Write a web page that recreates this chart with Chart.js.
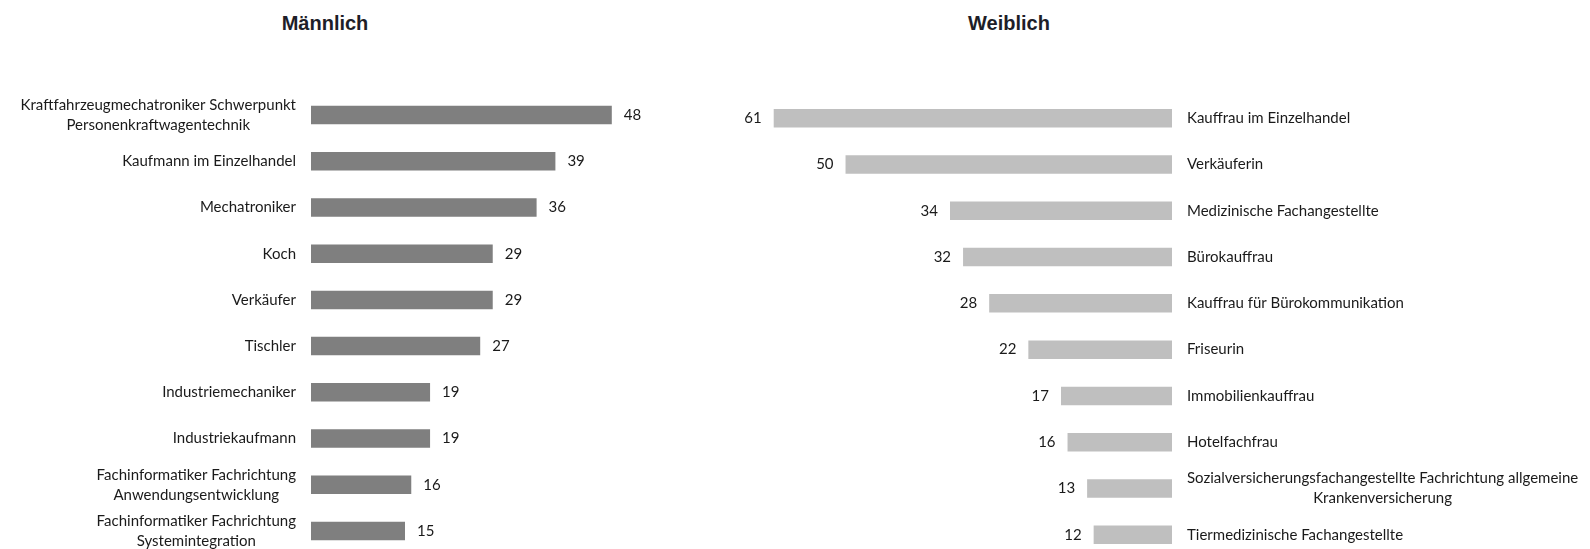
<!DOCTYPE html>
<html>
<head>
<meta charset="utf-8">
<script src="https://cdn.jsdelivr.net/npm/chart.js@4"></script>
<style>
  html, body { margin: 0; padding: 0; background: #fff; overflow: hidden; }
  #wrap { position: relative; width: 1590px; height: 549px; overflow: hidden; }
  .title { position: absolute; top: 12px; font: bold 20px "Liberation Sans", Arial, sans-serif; color: #1e1e28; transform: translateX(-50%); white-space: nowrap; }
  canvas { position: absolute; top: 0; }
</style>
</head>
<body>
<div id="wrap">
  <div class="title" style="left:325px">Männlich</div>
  <div class="title" style="left:1009px">Weiblich</div>
  <canvas id="male" width="720" height="560" style="left:0"></canvas>
  <canvas id="female" width="870" height="562" style="left:720px"></canvas>
</div>
<script>
var maleJobs = [
  ['Kraftfahrzeugmechatroniker Schwerpunkt', 'Personenkraftwagentechnik'],
  'Kaufmann im Einzelhandel',
  'Mechatroniker',
  'Koch',
  'Verkäufer',
  'Tischler',
  'Industriemechaniker',
  'Industriekaufmann',
  ['Fachinformatiker Fachrichtung', 'Anwendungsentwicklung'],
  ['Fachinformatiker Fachrichtung', 'Systemintegration']
];
var maleCounts = [48, 39, 36, 29, 29, 27, 19, 19, 16, 15];

var femaleJobs = [
  'Kauffrau im Einzelhandel',
  'Verkäuferin',
  'Medizinische Fachangestellte',
  'Bürokauffrau',
  'Kauffrau für Bürokommunikation',
  'Friseurin',
  'Immobilienkauffrau',
  'Hotelfachfrau',
  ['Sozialversicherungsfachangestellte Fachrichtung allgemeine', 'Krankenversicherung'],
  'Tiermedizinische Fachangestellte'
];
var femaleCounts = [61, 50, 34, 32, 28, 22, 17, 16, 13, 12];

var textFont = '15px Lato, "Open Sans", sans-serif';
var textColor = '#1a1a1a';

// draws the job names beside the axis and the count next to each bar
var sideLabels = {
  id: 'sideLabels',
  afterDatasetsDraw: function(chart, args, opts) {
    var ctx = chart.ctx;
    var xs = chart.scales.x, ys = chart.scales.y;
    var vals = chart.data.datasets[0].data;
    ctx.save();
    ctx.font = textFont;
    ctx.fillStyle = textColor;
    ctx.textBaseline = 'middle';
    chart.data.labels.forEach(function(lab, i) {
      var lines = Array.isArray(lab) ? lab : [lab];
      var cy = ys.getPixelForValue(i);
      var w = Math.max.apply(null, lines.map(function(l) { return ctx.measureText(l).width; }));
      var cx = opts.side === 'left' ? ys.right - 15 - w / 2 : ys.left + 15 + w / 2;
      ctx.textAlign = 'center';
      lines.forEach(function(l, j) {
        ctx.fillText(l, cx, cy + (j - (lines.length - 1) / 2) * 20);
      });
      var vx = xs.getPixelForValue(vals[i]);
      if (opts.side === 'left') {
        ctx.textAlign = 'left';
        ctx.fillText(String(vals[i]), vx + 12, cy);
      } else {
        ctx.textAlign = 'right';
        ctx.fillText(String(vals[i]), vx - 12, cy);
      }
    });
    ctx.restore();
  }
};

function makeChart(id, jobs, counts, colour, side, xmax, padding, axisWidth) {
  return new Chart(document.getElementById(id), {
    type: 'bar',
    data: {
      labels: jobs,
      datasets: [{
        data: counts,
        backgroundColor: colour,
        borderWidth: 0,
        categoryPercentage: 0.4,
        barPercentage: 1
      }]
    },
    options: {
      indexAxis: 'y',
      responsive: false,
      animation: false,
      layout: { padding: padding },
      plugins: {
        legend: { display: false },
        tooltip: { enabled: false },
        sideLabels: { side: side }
      },
      scales: {
        x: {
          display: false,
          min: 0,
          max: xmax,
          reverse: side === 'right'
        },
        y: {
          position: side,
          grid: { display: false },
          border: { display: false },
          ticks: { display: false },
          afterFit: function(scale) { scale.width = axisWidth; }
        }
      }
    },
    plugins: [sideLabels]
  });
}

makeChart('male', maleJobs, maleCounts, '#7f7f7f', 'left', 60,
  { top: 92, bottom: 6, left: 0, right: 33 }, 311);
makeChart('female', femaleJobs, femaleCounts, '#bfbfbf', 'right', 68,
  { top: 95, bottom: 4, left: 8, right: 0 }, 418);
</script>
</body>
</html>
